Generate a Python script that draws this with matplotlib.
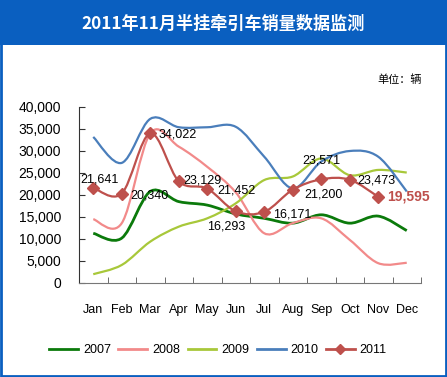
import numpy as np
import matplotlib
matplotlib.use('Agg')
import matplotlib.pyplot as plt
from matplotlib.path import Path
from matplotlib.patches import PathPatch, Rectangle
from matplotlib.lines import Line2D

plt.rcParams['font.family'] = ['Liberation Sans', 'Noto Sans CJK SC']

# dane
miesiace = ['Jan', 'Feb', 'Mar', 'Apr', 'May', 'Jun', 'Jul', 'Aug', 'Sep', 'Oct', 'Nov', 'Dec']
s2007 = [11300, 10200, 20800, 18500, 17700, 15700, 14700, 13600, 15500, 13600, 15200, 11900]
s2008 = [14500, 13600, 34000, 31000, 26400, 20600, 11300, 13600, 14700, 9800, 4500, 4600]
s2009 = [2000, 4100, 9400, 12800, 14700, 18100, 23400, 24200, 28300, 24500, 25700, 25100]
s2010 = [33200, 27300, 37300, 35400, 35400, 35500, 28700, 21500, 27600, 30000, 28700, 20800]
s2011 = [21641, 20340, 34022, 23129, 21452, 16293, 16171, 21200, 23571, 23473, 19595]

kolory = {'2007': '#0B7A0B', '2008': '#F28A8A', '2009': '#A8C83A',
          '2010': '#4A7EBB', '2011': '#BE504C'}


def gladka_sciezka(xs, ys):
    # krzywe Beziera jak "smooth line" w Excelu
    pts = np.column_stack([xs, ys]).astype(float)
    n = len(pts)
    verts = [pts[0]]
    codes = [Path.MOVETO]
    for i in range(n - 1):
        p0 = pts[max(i - 1, 0)]
        p1 = pts[i]
        p2 = pts[i + 1]
        p3 = pts[min(i + 2, n - 1)]
        verts += [p1 + (p2 - p0) / 6, p2 - (p3 - p1) / 6, p2]
        codes += [Path.CURVE4] * 3
    return Path(verts, codes)


fig = plt.figure(figsize=(4.47, 3.77), dpi=100)

# ramka i pasek tytulu
fig.patches.append(Rectangle((0, 1 - 45 / 377), 1, 45 / 377, transform=fig.transFigure,
                             facecolor='#0A5FC0', edgecolor='none', zorder=0))
fig.patches.append(Rectangle((0.002, 0.003), 0.996, 0.994, transform=fig.transFigure,
                             facecolor='none', edgecolor='#0A5FC0', linewidth=2, zorder=1))
fig.text(223 / 447, 1 - 24 / 377, '2011年11月半挂牵引车销量数据监测', color='white',
         fontsize=12.3, fontweight='bold', ha='center', va='center',
         family=['Noto Sans CJK SC', 'DejaVu Sans'])
fig.text(422 / 447, 1 - 80 / 377, '单位：辆', fontsize=8, ha='right', va='center',
         family=['Noto Sans CJK SC', 'DejaVu Sans'])

ax = fig.add_axes([79 / 447, 94 / 377, 342 / 447, 176 / 377])
x = np.arange(len(miesiace))

serie = [('2007', s2007, 2.0), ('2008', s2008, 1.6), ('2009', s2009, 1.6), ('2010', s2010, 1.6)]
for nazwa, dane, lw in serie:
    ax.add_patch(PathPatch(gladka_sciezka(x, dane), facecolor='none',
                           edgecolor=kolory[nazwa], linewidth=lw, zorder=2))

x11 = x[:len(s2011)]
ax.add_patch(PathPatch(gladka_sciezka(x11, s2011), facecolor='none',
                       edgecolor=kolory['2011'], linewidth=1.6, zorder=3))
ax.plot(x11, s2011, linestyle='none', marker='D', markersize=6.5,
        color=kolory['2011'], zorder=4)

# etykiety danych (przesuniecie w pikselach)
przes = [(6, 8, 'center'), (9, -2, 'left'), (8, -1, 'left'), (5, 1, 'left'),
         (10, -2, 'left'), (-10, -15, 'center'), (9, -3, 'left'), (12, -5, 'left'),
         (0, 19, 'center'), (8, -1, 'left'), (9, 0, 'left')]
for i, (v, (dx, dy, ha)) in enumerate(zip(s2011, przes)):
    ostatni = i == len(s2011) - 1
    ax.annotate(f'{v:,}', (x11[i], v), xytext=(dx, dy), textcoords='offset pixels',
                ha=ha, va='center', fontsize=10 if ostatni else 9,
                fontweight='bold' if ostatni else 'normal',
                color=kolory['2011'] if ostatni else 'black', zorder=5)

ax.set_xlim(-0.5, 11.5)
ax.set_ylim(0, 40000)
ax.set_yticks(range(0, 40001, 5000))
ax.set_yticklabels([f'{v:,}' for v in range(0, 40001, 5000)])
ax.set_xticks(x)
ax.set_xticklabels(miesiace)
ax.set_xticks(np.arange(-0.5, 12, 1), minor=True)
ax.tick_params(axis='x', which='major', length=0, pad=15, labelsize=9)
ax.tick_params(axis='x', which='minor', length=4, direction='in', color='#555555')
ax.tick_params(axis='y', length=4, direction='in', pad=13, labelsize=10, color='#333333')
for s in ['top', 'right']:
    ax.spines[s].set_visible(False)
ax.spines['left'].set_color('#333333')
ax.spines['bottom'].set_color('#777777')

uchwyty = [Line2D([], [], color=kolory[n], linewidth=2) for n in ['2007', '2008', '2009', '2010']]
uchwyty.append(Line2D([], [], color=kolory['2011'], linewidth=2, marker='D', markersize=5))
fig.legend(uchwyty, ['2007', '2008', '2009', '2010', '2011'], loc='center',
           bbox_to_anchor=(218 / 447, 1 - 350 / 377), ncol=5, frameon=False,
           fontsize=9, handlelength=2.3, handletextpad=0.4, columnspacing=0.6)

fig.savefig('out.png', dpi=100)
